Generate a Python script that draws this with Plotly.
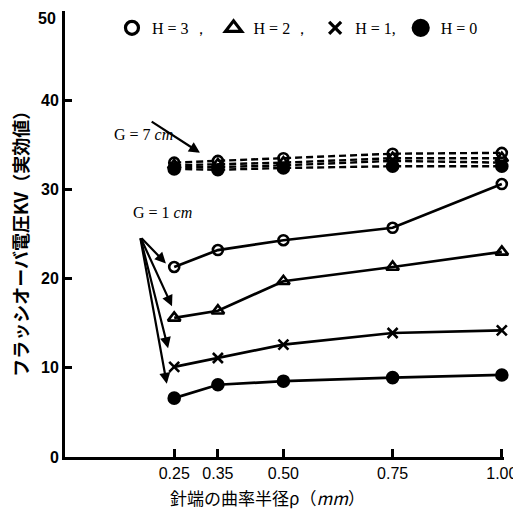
import plotly.graph_objects as go

rho = [0.25, 0.35, 0.50, 0.75, 1.00]

# G = 1 cm (solid lines)
g1_h3 = [21.3, 23.2, 24.3, 25.7, 30.6]
g1_h2 = [15.6, 16.4, 19.7, 21.3, 23.0]
g1_h1 = [10.1, 11.1, 12.6, 13.9, 14.2]
g1_h0 = [6.6, 8.1, 8.5, 8.9, 9.2]

# G = 7 cm (dashed lines)
g7_h3 = [33.0, 33.2, 33.5, 34.0, 34.1]
g7_h2 = [32.7, 32.8, 33.0, 33.5, 33.5]
g7_h1 = [32.5, 32.5, 32.7, 33.2, 33.0]
g7_h0 = [32.3, 32.2, 32.4, 32.6, 32.6]

x_ticks = [0.25, 0.35, 0.50, 0.75, 1.00]
x_tick_labels = ["0.25", "0.35", "0.50", "0.75", "1.00"]
y_ticks = [0, 10, 20, 30, 40, 50]
y_tick_labels = ["0", "10", "20", "30", "40", ""]
y_top_label = "50"

legend_labels = ["H = 3 ，", "H = 2 ，", "H = 1,", "H = 0"]

series = [
    ("circle-open", 10),
    ("triangle-up-open", 11),
    ("x-thin-open", 10),
    ("circle", 11),
]
legend_marker_sizes = [13, 14, 12, 15]

fig = go.Figure()

for (sym, sz), ys in zip(series, [g7_h3, g7_h2, g7_h1, g7_h0]):
    fig.add_trace(go.Scatter(
        x=rho, y=ys, mode="lines+markers",
        line=dict(color="black", width=2.4, dash="7px,4px"),
        marker=dict(symbol=sym, size=sz, color="black",
                    line=dict(color="black", width=2.6)),
        showlegend=False, cliponaxis=False,
    ))

for (sym, sz), ys in zip(series, [g1_h3, g1_h2, g1_h1, g1_h0]):
    fig.add_trace(go.Scatter(
        x=rho, y=ys, mode="lines+markers",
        line=dict(color="black", width=2.7),
        marker=dict(symbol=sym, size=sz, color="black",
                    line=dict(color="black", width=2.6)),
        showlegend=False, cliponaxis=False,
    ))

# legend-only entries
for (sym, _), lsz, lab in zip(series, legend_marker_sizes, legend_labels):
    fig.add_trace(go.Scatter(
        x=[None], y=[None], mode="markers", name=lab,
        marker=dict(symbol=sym, size=lsz, color="black",
                    line=dict(color="black", width=3.2)),
        showlegend=True,
    ))

serif = "Liberation Serif"
ann = []
# top y tick label, nudged down so it is not clipped
ann.append(dict(xref="paper", yref="y", x=-0.016, y=49.2, xanchor="right", yanchor="middle",
                text="<b>" + y_top_label + "</b>", showarrow=False,
                font=dict(family="Liberation Sans", size=16, color="black")))
# G labels
ann.append(dict(xref="x", yref="y", x=0.18, y=36.1, text="G = 7 <i>cm</i>", showarrow=False,
                font=dict(family=serif, size=16, color="black")))
ann.append(dict(xref="x", yref="y", x=0.223, y=27.4, text="G = 1 <i>cm</i>", showarrow=False,
                font=dict(family=serif, size=16, color="black")))
# arrows
ann.append(dict(xref="x", yref="y", axref="x", ayref="y", x=0.309, y=34.1, ax=0.195, ay=37.7,
                text="", showarrow=True, arrowhead=2, arrowsize=1, arrowwidth=2.2, arrowcolor="black"))
for hx, hy in [(0.231, 21.7), (0.245, 16.9), (0.236, 12.2), (0.233, 8.2)]:
    ann.append(dict(xref="x", yref="y", axref="x", ayref="y", x=hx, y=hy, ax=0.172, ay=24.7,
                    text="", showarrow=True, arrowhead=2, arrowsize=1, arrowwidth=2.2, arrowcolor="black"))
# axis titles (paper coordinates)
ann.append(dict(xref="paper", yref="paper", x=0.462, y=-0.09, xanchor="center", yanchor="middle",
                text="針端の曲率半径ρ（<i>mm</i>）", showarrow=False,
                font=dict(family="Noto Sans CJK JP", size=17, color="black")))
ann.append(dict(xref="paper", yref="paper", x=-0.1025, y=0.487, xanchor="center", yanchor="middle",
                text="<b>フラッシオーバ電圧KV（実効値）</b>", showarrow=False, textangle=-90,
                font=dict(family="Noto Sans CJK JP", size=18, color="black")))

fig.update_layout(
    width=513, height=514,
    margin=dict(l=57, r=17, t=3, b=65, autoexpand=False),
    paper_bgcolor="white", plot_bgcolor="white",
    annotations=ann,
    showlegend=True,
    legend=dict(orientation="h", x=0.107, y=0.962, xanchor="left", yanchor="middle",
                bgcolor="rgba(0,0,0,0)", itemwidth=30, tracegroupgap=0,
                font=dict(family=serif, size=16, color="black")),
    xaxis=dict(range=[0, 1.005], tickvals=x_ticks, ticktext=x_tick_labels, automargin=False,
               ticks="inside", ticklen=8, tickwidth=2.5, tickcolor="black",
               showline=True, linecolor="black", linewidth=3, showgrid=False, zeroline=False,
               ticklabeloverflow="allow",
               tickfont=dict(family="Liberation Sans", size=16, color="black")),
    yaxis=dict(range=[0, 50], tickvals=y_ticks, ticktext=y_tick_labels, automargin=False,
               ticks="inside", ticklen=7, tickwidth=2.5, tickcolor="black",
               showline=True, linecolor="black", linewidth=3, showgrid=False, zeroline=False,
               ticklabeloverflow="allow",
               tickfont=dict(family="Liberation Sans", size=16, color="black", weight="bold")),
)

fig.write_html("out.html")
